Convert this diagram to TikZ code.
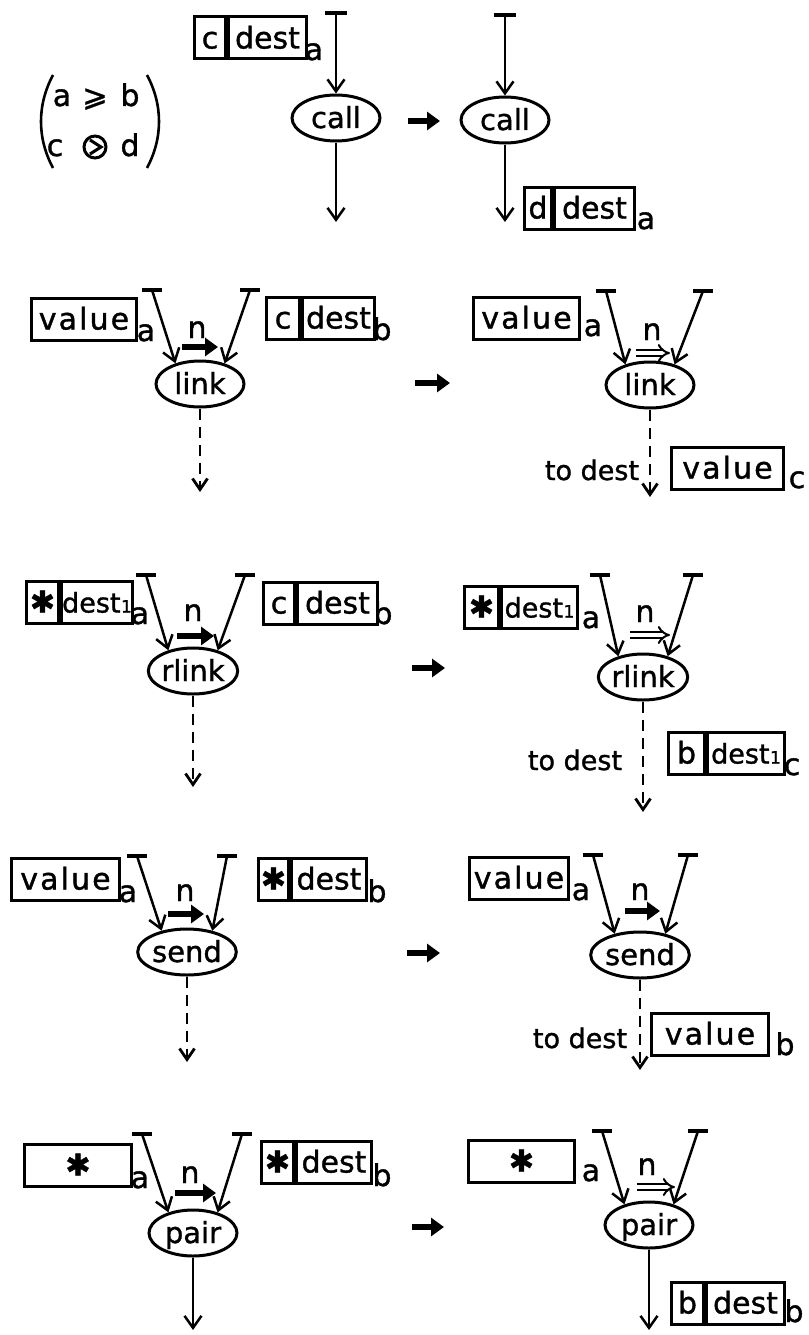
\documentclass[tikz,border=0pt]{standalone}
\usepackage{fontspec}
\setmainfont{DejaVu Sans}[FakeBold=1.2]
\newfontfamily\widefont{DejaVu Sans}[FakeBold=1.2,LetterSpace=7]
\newcommand{\destone}{{\fontsize{27}{28}\selectfont dest\kern0.5pt{\fontsize{17}{17}\selectfont 1}}}
\newcommand{\val}{{\widefont value}}
\usetikzlibrary{arrows.meta,shapes.geometric}
\begin{document}
\begin{tikzpicture}[x=1pt,y=-1pt,
  every node/.style={font=\fontsize{30}{32}\selectfont},
  cell/.style={draw, line width=3pt, minimum height=42pt, inner sep=0pt, anchor=west, text height=21pt, text depth=0pt},
  op/.style={draw, ellipse, line width=3pt, minimum width=88pt, minimum height=46pt, inner sep=0pt, text height=20pt, text depth=0pt, font=\fontsize{29}{30}\selectfont},
  sub/.style={inner sep=0pt, anchor=base},
  lbl/.style={inner sep=0pt, anchor=base, font=\fontsize{27}{30}\selectfont},
  tbar/.style={line width=4pt},
  feed/.style={line width=2.5pt, arrows={-Straight Barb[length=12pt,width=17pt]}},
  outline/.style={line width=2.5pt, arrows={-Straight Barb[length=12pt,width=17pt]}},
  dashline/.style={line width=2.8pt, dash pattern=on 11pt off 7pt, arrows={-Straight Barb[length=11pt,width=15pt]}},
  fat/.style={line width=6.5pt, arrows={-Triangle[length=13pt,width=18pt]}},
  hollow/.style={double, double distance=4pt, line width=2pt, arrows={-Implies}}
]
\useasboundingbox (0,0) rectangle (808,1335);

% ---------- matrix ----------
\node[sub] (ma) at (62,106) {a};
\node[sub] (mge) at (95,106) {⩾};
\node[sub] (mb) at (130,106) {b};
\node[sub] (mc) at (55,156) {c};
\node[circle, draw, line width=3pt, minimum size=22pt, inner sep=0pt] (mop) at (95,147) {};
\draw[line width=3pt] ([shift={(-5,-7)}]mop.center) -- ([shift={(6,0)}]mop.center) -- ([shift={(-5,7)}]mop.center);
\node[sub] (md) at (130,156) {d};
\draw[line width=2.6pt] (53,75) .. controls (37,105) and (37,138) .. (53,168);
\draw[line width=2.6pt] (147,75) .. controls (163,105) and (163,138) .. (147,168);

% ---------- row 1: call ----------
\node[cell, minimum width=31pt] (b1c) at (193,38) {c};
\node[cell, minimum width=78pt] (b1d) at (b1c.east) {dest};
\node[sub] (s1) at (314,60) {a};
\coordinate (t1) at (336,13);
\draw[tbar] ([xshift=-11pt]t1) -- ([xshift=11pt]t1);
\node[op] (call1) at (336,118) {call};
\draw[feed] (t1) -- (call1.north);
\coordinate (e1) at (336,222);
\draw[outline] (call1.south) -- (e1);

\coordinate (r1a) at (408,121); \coordinate (r1b) at (440,121);
\draw[fat] (r1a) -- (r1b);

\coordinate (t2) at (505,15);
\draw[tbar] ([xshift=-11pt]t2) -- ([xshift=11pt]t2);
\node[op] (call2) at (505,120) {call};
\draw[feed] (t2) -- (call2.north);
\coordinate (e2) at (505,222);
\draw[outline] (call2.south) -- (e2);
\node[cell, minimum width=27pt] (b2c) at (523,208) {d};
\node[cell, minimum width=80pt] (b2d) at (b2c.east) {dest};
\node[sub] (s2) at (646,229) {a};

% ---------- row 2: link ----------
\node[cell, minimum width=105pt] (v2) at (30,319) {\val};
\node[sub] (s3) at (146,341) {a};
\node[cell, minimum width=33pt] (c2c) at (265,318) {c};
\node[cell, minimum width=72pt] (c2d) at (c2c.east) {dest};
\node[sub] (s4) at (382,340) {b};
\coordinate (t3) at (152,290); \coordinate (t4) at (250,290);
\draw[tbar] ([xshift=-10pt]t3) -- ([xshift=10pt]t3);
\draw[tbar] ([xshift=-10pt]t4) -- ([xshift=10pt]t4);
\node[op] (link1) at (200,384) {link};
\draw[feed] (t3) -- (link1.140);
\draw[feed] (t4) -- (link1.40);
\node[sub] (n1) at (197,338) {n};
\coordinate (f1a) at (182,347); \coordinate (f1b) at (218,347);
\draw[fat] (f1a) -- (f1b);
\coordinate (e3) at (200,492);
\draw[dashline] (link1.south) -- (e3);

\coordinate (r2a) at (415,383); \coordinate (r2b) at (450,383);
\draw[fat] (r2a) -- (r2b);

\node[cell, minimum width=106pt] (v3) at (472,318) {\val};
\node[sub] (s5) at (593,336) {a};
\coordinate (t5) at (606,291); \coordinate (t6) at (703,291);
\draw[tbar] ([xshift=-10pt]t5) -- ([xshift=10pt]t5);
\draw[tbar] ([xshift=-10pt]t6) -- ([xshift=10pt]t6);
\node[op] (link2) at (650,385) {link};
\draw[feed] (t5) -- (link2.140);
\draw[feed] (t6) -- (link2.40);
\node[sub] (n2) at (652,340) {n};
\coordinate (h1a) at (636,353); \coordinate (h1b) at (670,353);
\draw[hollow] (h1a) -- (h1b);
\coordinate (e4) at (650,497);
\draw[dashline] (link2.south) -- (e4);
\node[lbl] (td1) at (592,480) {to dest};
\node[cell, minimum width=112pt] (v4) at (670,468) {\val};
\node[sub] (s6) at (797,488) {c};

% ---------- row 3: rlink ----------
\node[cell, minimum width=32pt] (s3a) at (25,602) {✱};
\node[cell, minimum width=71pt] (s3b) at (s3a.east) {\destone};
\node[sub] (s7) at (140,624) {a};
\node[cell, minimum width=31pt] (c3c) at (262,603) {c};
\node[cell, minimum width=80pt] (c3d) at (c3c.east) {dest};
\node[sub] (s8) at (383,624) {b};
\coordinate (t7) at (146,575); \coordinate (t8) at (245,575);
\draw[tbar] ([xshift=-10pt]t7) -- ([xshift=10pt]t7);
\draw[tbar] ([xshift=-10pt]t8) -- ([xshift=10pt]t8);
\node[op] (rlink1) at (193,671) {rlink};
\draw[feed] (t7) -- (rlink1.140);
\draw[feed] (t8) -- (rlink1.40);
\node[sub] (n3) at (193,621) {n};
\coordinate (f3a) at (177,636); \coordinate (f3b) at (214,636);
\draw[fat] (f3a) -- (f3b);
\coordinate (e5) at (193,787);
\draw[dashline] (rlink1.south) -- (e5);

\coordinate (r3a) at (412,668); \coordinate (r3b) at (445,668);
\draw[fat] (r3a) -- (r3b);

\node[cell, minimum width=34pt] (s4a) at (463,607) {✱};
\node[cell, minimum width=76pt] (s4b) at (s4a.east) {\destone};
\node[sub] (s9) at (591,628) {a};
\coordinate (t9) at (600,575); \coordinate (t10) at (693,575);
\draw[tbar] ([xshift=-10pt]t9) -- ([xshift=10pt]t9);
\draw[tbar] ([xshift=-10pt]t10) -- ([xshift=10pt]t10);
\node[op] (rlink2) at (643,677) {rlink};
\draw[feed] (t9) -- (rlink2.140);
\draw[feed] (t10) -- (rlink2.40);
\node[sub] (n4) at (645,622) {n};
\coordinate (h3a) at (630,635); \coordinate (h3b) at (670,635);
\draw[hollow] (h3a) -- (h3b);
\coordinate (e6) at (643,812);
\draw[dashline] (rlink2.south) -- (e6);
\node[lbl] (td2) at (575,770) {to dest};
\node[cell, minimum width=36pt] (b4c) at (667,753) {b};
\node[cell, minimum width=77pt] (b4d) at (b4c.east) {\destone};
\node[sub] (s10) at (792,775) {c};

% ---------- row 4: send ----------
\node[cell, minimum width=108pt] (v5) at (10,879) {\val};
\node[sub] (s11) at (128,902) {a};
\node[cell, minimum width=30pt] (s5a) at (257,879) {✱};
\node[cell, minimum width=75pt] (s5b) at (s5a.east) {dest};
\node[sub] (s12) at (377,902) {b};
\coordinate (t11) at (137,856); \coordinate (t12) at (227,856);
\draw[tbar] ([xshift=-10pt]t11) -- ([xshift=10pt]t11);
\draw[tbar] ([xshift=-10pt]t12) -- ([xshift=10pt]t12);
\node[op] (send1) at (187,952) {send};
\draw[feed] (t11) -- (send1.140);
\draw[feed] (t12) -- (send1.40);
\node[sub] (n5) at (185,901) {n};
\coordinate (f5a) at (168,914); \coordinate (f5b) at (204,914);
\draw[fat] (f5a) -- (f5b);
\coordinate (e7) at (187,1062);
\draw[dashline] (send1.south) -- (e7);

\coordinate (r4a) at (407,953); \coordinate (r4b) at (440,953);
\draw[fat] (r4a) -- (r4b);

\node[cell, minimum width=99pt] (v6) at (468,878) {\val};
\node[sub] (s13) at (581,900) {a};
\coordinate (t13) at (593,855); \coordinate (t14) at (688,855);
\draw[tbar] ([xshift=-10pt]t13) -- ([xshift=10pt]t13);
\draw[tbar] ([xshift=-10pt]t14) -- ([xshift=10pt]t14);
\node[op] (send2) at (640,955) {send};
\draw[feed] (t13) -- (send2.140);
\draw[feed] (t14) -- (send2.40);
\node[sub] (n6) at (640,900) {n};
\coordinate (f6a) at (625,911); \coordinate (f6b) at (660,911);
\draw[fat] (f6a) -- (f6b);
\coordinate (e8) at (640,1070);
\draw[dashline] (send2.south) -- (e8);
\node[lbl] (td3) at (580,1048) {to dest};
\node[cell, minimum width=117pt] (v7) at (650,1034) {\val};
\node[sub] (s14) at (785,1055) {b};

% ---------- row 5: pair ----------
\node[cell, minimum width=107pt] (s7x) at (23,1165) {✱};
\node[sub] (s15) at (140,1188) {a};
\node[cell, minimum width=32pt] (s8a) at (260,1162) {✱};
\node[cell, minimum width=75pt] (s8b) at (s8a.east) {dest};
\node[sub] (s16) at (382,1186) {b};
\coordinate (t15) at (142,1134); \coordinate (t16) at (242,1134);
\draw[tbar] ([xshift=-10pt]t15) -- ([xshift=10pt]t15);
\draw[tbar] ([xshift=-10pt]t16) -- ([xshift=10pt]t16);
\node[op] (pair1) at (193,1233) {pair};
\draw[feed] (t15) -- (pair1.140);
\draw[feed] (t16) -- (pair1.40);
\node[sub] (n7) at (190,1183) {n};
\coordinate (f7a) at (175,1193); \coordinate (f7b) at (216,1193);
\draw[fat] (f7a) -- (f7b);
\coordinate (e9) at (193,1330);
\draw[outline] (pair1.south) -- (e9);

\coordinate (r5a) at (412,1227); \coordinate (r5b) at (444,1227);
\draw[fat] (r5a) -- (r5b);

\node[cell, minimum width=106pt] (s9x) at (467,1161) {✱};
\node[sub] (s17) at (591,1181) {a};
\coordinate (t17) at (602,1131); \coordinate (t18) at (698,1131);
\draw[tbar] ([xshift=-10pt]t17) -- ([xshift=10pt]t17);
\draw[tbar] ([xshift=-10pt]t18) -- ([xshift=10pt]t18);
\node[op] (pair2) at (649,1225) {pair};
\draw[feed] (t17) -- (pair2.140);
\draw[feed] (t18) -- (pair2.40);
\node[sub] (n8) at (647,1175) {n};
\coordinate (h5a) at (637,1187); \coordinate (h5b) at (675,1187);
\draw[hollow] (h5a) -- (h5b);
\coordinate (e10) at (649,1330);
\draw[outline] (pair2.south) -- (e10);
\node[cell, minimum width=32pt] (b9c) at (670,1303) {b};
\node[cell, minimum width=78pt] (b9d) at (b9c.east) {dest};
\node[sub] (s18) at (794,1322) {b};
\end{tikzpicture}
\end{document}
